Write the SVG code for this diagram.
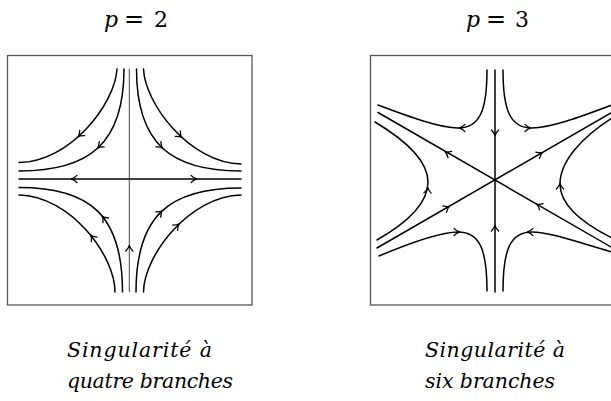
<svg xmlns="http://www.w3.org/2000/svg" xmlns:xlink="http://www.w3.org/1999/xlink" width="611" height="401" viewBox="0 0 611 401">
<defs>
<style>
.box{fill:none;stroke:#555;stroke-width:1.3}
.c{fill:none;stroke:#000;stroke-width:1.5;stroke-linecap:round}
.thin{fill:none;stroke:#333;stroke-width:0.9}
.ah{fill:none;stroke:#000;stroke-width:1.3;stroke-linecap:round;stroke-linejoin:round}
.t{font-family:"DejaVu Serif",serif;font-size:22px;fill:#000}
.cap{font-family:"DejaVu Serif",serif;font-style:italic;font-size:20.5px;fill:#000}
</style>
<path id="ah" class="ah" d="M-5,-3.6 C-3,-1.6 -1,-0.3 0.6,0 C-1,0.3 -3,1.6 -5,3.6"/>
</defs>
<rect width="611" height="401" fill="#fff"/>

<g id="title-p2"><text class="t" y="27"><tspan x="104" font-style="italic">p</tspan><tspan x="124" font-size="24">=</tspan><tspan x="154">2</tspan></text></g>
<g id="title-p3"><text class="t" y="27"><tspan x="466" font-style="italic">p</tspan><tspan x="486" font-size="24">=</tspan><tspan x="515">3</tspan></text></g>

<g id="diagram-p2">
<rect class="box" x="7.5" y="55.5" width="244.5" height="249.5"/>
<g id="connectors-p2">
<line class="c" x1="19" y1="179" x2="241" y2="179"/>
<line class="thin" x1="129.3" y1="69" x2="129.3" y2="292"/>
<path class="c" d="M117,69 C115,104 70,162 19,162.5"/>
<path class="c" d="M124,69 C124,143 90,171 19,171"/>
<path class="c" d="M143.5,69 C145,104 190,163 241,164"/>
<path class="c" d="M136.5,69 C136.5,143 170,171 241,171"/>
<path class="c" d="M115,292 C115,255 70,196 19,195"/>
<path class="c" d="M122.5,292 C122.5,215 90,187.5 19,187.5"/>
<path class="c" d="M143.5,292 C144,255 190,196 241,195"/>
<path class="c" d="M136,292 C136,215 170,188 241,188"/>
<use xlink:href="#ah" transform="translate(78.5,136.4) rotate(137)"/>
<use xlink:href="#ah" transform="translate(98,147.7) rotate(137)"/>
<use xlink:href="#ah" transform="translate(181.4,137.1) rotate(43)"/>
<use xlink:href="#ah" transform="translate(162.1,147.7) rotate(43)"/>
<use xlink:href="#ah" transform="translate(91,235.5) rotate(-129)"/>
<use xlink:href="#ah" transform="translate(102.5,216.5) rotate(-130)"/>
<use xlink:href="#ah" transform="translate(178.7,224.2) rotate(-44)"/>
<use xlink:href="#ah" transform="translate(161.9,211.1) rotate(-43)"/>
<use xlink:href="#ah" transform="translate(72,179) rotate(180)"/>
<use xlink:href="#ah" transform="translate(196,179)"/>
<use xlink:href="#ah" transform="translate(129.3,246) rotate(-90)"/>
</g>
</g>

<g id="diagram-p3">
<rect class="box" x="370.5" y="55.5" width="245" height="249.5"/>
<g id="connectors-p3">
<line class="c" x1="495" y1="70" x2="495" y2="292"/>
<line class="c" x1="378" y1="112.5" x2="615" y2="249.3"/>
<line class="c" x1="377" y1="248" x2="615" y2="110.6"/>
<path class="c" d="M487,70 C487,110 480,128 458,128 C440,128 410,117 378,105"/>
<path class="c" d="M503,70 C503,110 510,128 532,128 C550,128 580,117 612,105"/>
<path class="c" d="M375,122 C405,140 428,160 428,182 C428,204 405,224 377,240"/>
<path class="c" d="M612,118 C584,136 560,160 560,184 C560,206 584,224 612,238"/>
<path class="c" d="M487,291 C487,250 480,232 458,232 C440,232 410,243 379,256"/>
<path class="c" d="M503,291 C503,250 510,232 532,232 C550,232 580,243 612,252"/>
<use xlink:href="#ah" transform="translate(495,135) rotate(90)"/>
<use xlink:href="#ah" transform="translate(495,226) rotate(-90)"/>
<use xlink:href="#ah" transform="translate(445.5,152) rotate(-150)"/>
<use xlink:href="#ah" transform="translate(542,152.7) rotate(-30)"/>
<use xlink:href="#ah" transform="translate(449,206.6) rotate(-30)"/>
<use xlink:href="#ah" transform="translate(537,204.3) rotate(-150)"/>
<use xlink:href="#ah" transform="translate(460,128) rotate(180)"/>
<use xlink:href="#ah" transform="translate(530,128)"/>
<use xlink:href="#ah" transform="translate(427.7,188) rotate(-88)"/>
<use xlink:href="#ah" transform="translate(560,184) rotate(-90)"/>
<use xlink:href="#ah" transform="translate(459,232)"/>
<use xlink:href="#ah" transform="translate(528,232) rotate(180)"/>
</g>
</g>

<g id="caption-left">
<text class="cap" x="67" y="357" textLength="145" lengthAdjust="spacing">Singularité à</text>
<text class="cap" x="67" y="388" textLength="166" lengthAdjust="spacing">quatre branches</text>
</g>
<g id="caption-right">
<text class="cap" x="425" y="357" textLength="140" lengthAdjust="spacing">Singularité à</text>
<text class="cap" x="425" y="388" textLength="130" lengthAdjust="spacing">six branches</text>
</g>
</svg>
